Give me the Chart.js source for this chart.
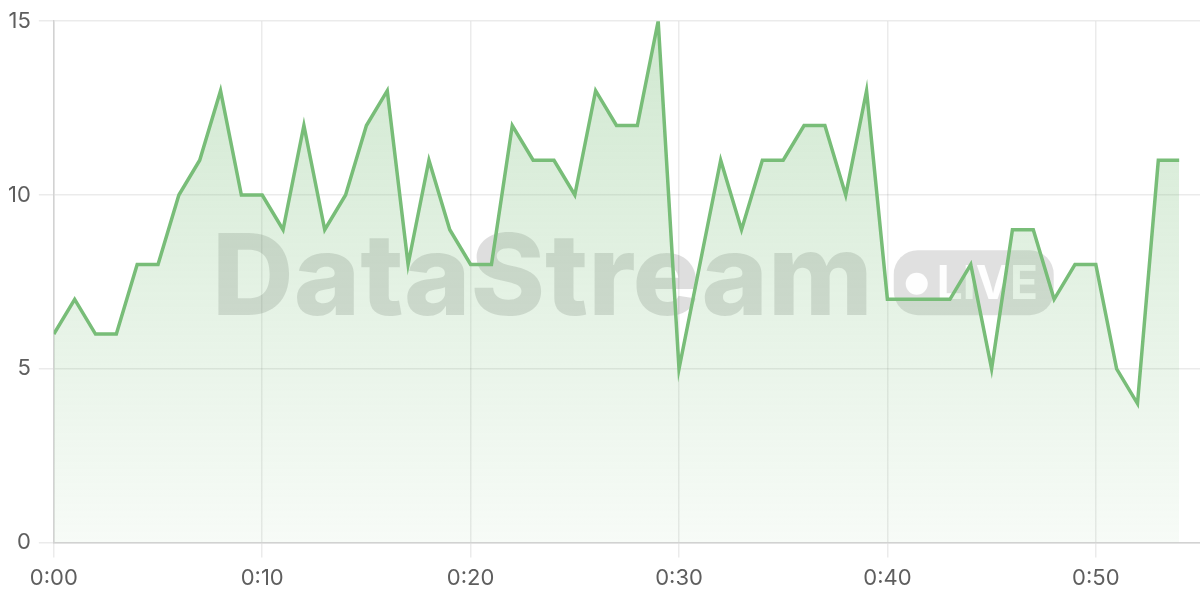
<!DOCTYPE html>
<html>
<head>
<meta charset="utf-8">
<script src="https://cdn.jsdelivr.net/npm/chart.js@4.4.0/dist/chart.umd.min.js"></script>
<style>
html,body{margin:0;padding:0;background:#fff;}
#wrap{width:1200px;height:600px;}
</style>
</head>
<body>
<div id="wrap"><canvas id="c"></canvas></div>
<script>
const minutes = [0,1,2,3,4,5,6,7,8,9,10,11,12,13,14,15,16,17,18,19,20,21,22,23,24,25,26,27,28,29,30,31,32,33,34,35,36,37,38,39,40,41,42,43,44,45,46,47,48,49,50,51,52,53,54];
const values = [6,7,6,6,8,8,10,11,13,10,10,9,12,9,10,12,13,8,11,9,8,8,12,11,11,10,13,12,12,15,5,8,11,9,11,11,12,12,10,13,7,7,7,7,8,5,9,9,7,8,8,5,4,11,11];
const xTickLabels = ["0:00","0:10","0:20","0:30","0:40","0:50"];
const yTicks = [0,5,10,15];

const points = minutes.map((m,i)=>({x:m,y:values[i]}));

const watermark = {
  id:'watermark',
  beforeDatasetsDraw(chart){
    const {ctx, chartArea:a} = chart;
    ctx.save();
    ctx.font = '800 113px Inter';
    const tw = ctx.measureText('DataStream').width;
    const bw = 160, gap = 21, bh = 65;
    const total = tw + gap + bw;
    const cx = (a.left + a.right)/2 + 6;
    const x0 = cx - total/2;
    const base = a.top + 294;
    ctx.fillStyle = 'rgba(0,0,0,0.13)';
    ctx.textBaseline = 'alphabetic';
    ctx.fillText('DataStream', x0, base);
    const bx = x0 + tw + gap, by = base - bh;
    ctx.beginPath();
    ctx.roundRect(bx, by, bw, bh, 24);
    ctx.fillStyle = 'rgba(0,0,0,0.12)';
    ctx.fill();
    ctx.fillStyle = 'rgba(255,255,255,0.95)';
    ctx.beginPath();
    ctx.arc(bx + 23, by + bh/2 + 1, 11, 0, Math.PI*2);
    ctx.fill();
    ctx.font = '700 46px Inter';
    ctx.textBaseline = 'middle';
    ctx.fillText('LIVE', bx + 43, by + bh/2 + 2);
    ctx.restore();
  }
};

const ctx = document.getElementById('c').getContext('2d');
new Chart(ctx, {
  type:'line',
  data:{
    datasets:[{
      data:points,
      borderColor:'#78bd78',
      borderWidth:3.5,
      pointRadius:0,
      tension:0,
      fill:'origin',
      backgroundColor(context){
        const {chart} = context;
        const a = chart.chartArea;
        if(!a) return 'rgba(120,189,120,0.2)';
        const g = chart.ctx.createLinearGradient(0,a.top,0,a.bottom);
        g.addColorStop(0,'rgba(120,189,120,0.35)');
        g.addColorStop(1,'rgba(120,189,120,0.06)');
        return g;
      }
    }]
  },
  options:{
    responsive:true,
    maintainAspectRatio:false,
    animation:false,
    layout:{padding:{top:10,right:0,left:0,bottom:0}},
    plugins:{legend:{display:false},tooltip:{enabled:false}},
    scales:{
      x:{
        type:'linear',
        min:0,max:55,
        afterBuildTicks(scale){ scale.ticks = xTickLabels.map((_,i)=>({value:i*10})); },
        ticks:{
          callback:(v)=>xTickLabels[v/10],
          color:'#5e5e5e',
          font:{family:'Inter',size:22},
          padding:8,
          maxRotation:0
        },
        grid:{color:'rgba(0,0,0,0.08)',tickLength:15,lineWidth:1.5},
        border:{color:'#d2d2d2',width:1.5}
      },
      y:{
        min:0,max:15,
        afterBuildTicks(scale){ scale.ticks = yTicks.map(v=>({value:v})); },
        ticks:{color:'#5e5e5e',font:{family:'Inter',size:22},padding:8},
        grid:{color:'rgba(0,0,0,0.08)',tickLength:15,lineWidth:1.5},
        border:{color:'#d2d2d2',width:1.5}
      }
    }
  },
  plugins:[watermark]
});
</script>
</body>
</html>
